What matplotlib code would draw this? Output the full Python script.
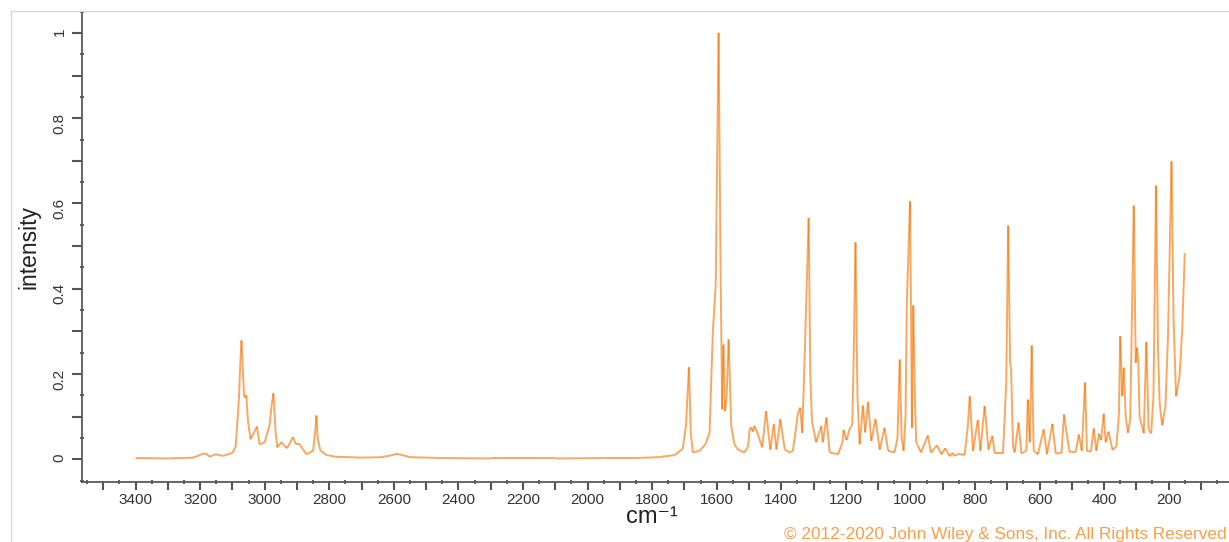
import matplotlib
matplotlib.use('Agg')
import matplotlib.pyplot as plt
from matplotlib.collections import LineCollection
from matplotlib.lines import Line2D
from matplotlib.ticker import MultipleLocator, FuncFormatter
import numpy as np

plt.rcParams['font.family'] = ['Liberation Sans', 'DejaVu Sans']

shift = [3400, 3300, 3220, 3195, 3183, 3170, 3152, 3130, 3100, 3090,
         3080, 3076, 3072, 3064, 3060, 3057, 3052, 3044, 3035, 3024,
         3016, 3000, 2985, 2978, 2973, 2966, 2961, 2949, 2931, 2913,
         2903, 2894, 2871, 2850, 2843, 2840, 2836, 2828, 2809, 2780,
         2700, 2640, 2610, 2590, 2575, 2550, 2450, 2300, 2100, 1950,
         1850, 1780, 1730, 1705, 1695, 1686, 1680, 1674, 1653, 1635,
         1622, 1612, 1603, 1594, 1588, 1583, 1579, 1574, 1569, 1563,
         1555, 1545, 1534, 1514, 1503, 1498, 1493, 1488, 1483, 1473,
         1459, 1447, 1434, 1423, 1415, 1403, 1389, 1374, 1364, 1348,
         1341, 1335, 1328, 1315, 1310, 1305, 1292, 1276, 1271, 1260,
         1250, 1224, 1210, 1207, 1198, 1187, 1180, 1176, 1170, 1164,
         1157, 1147, 1140, 1131, 1121, 1108, 1095, 1080, 1069, 1049,
         1040, 1033, 1027, 1021, 1015, 1011, 1001, 995, 991, 986,
         982, 967, 946, 936, 918, 904, 892, 878, 870, 863,
         850, 832, 822, 816, 806, 791, 783, 770, 758, 746,
         739, 713, 703, 697, 691, 688, 682, 677, 665, 656,
         641, 636, 630, 624, 618, 605, 587, 577, 560, 550,
         532, 524, 517, 507, 488, 478, 469, 459, 453, 441,
         432, 424, 416, 409, 401, 395, 386, 374, 362, 354,
         350, 344, 339, 333, 326, 319, 308, 302, 298, 294,
         290, 277, 269, 262, 254, 247, 239, 233, 228, 220,
         210, 202, 191, 185, 177, 166, 158, 150]
intensity = [0.003, 0.002, 0.004, 0.012, 0.014, 0.006, 0.012, 0.008, 0.015, 0.03,
             0.14, 0.22, 0.279, 0.148, 0.145, 0.15, 0.09, 0.047, 0.06, 0.077,
             0.035, 0.04, 0.08, 0.13, 0.155, 0.06, 0.028, 0.04, 0.026, 0.052,
             0.035, 0.037, 0.012, 0.02, 0.07, 0.103, 0.05, 0.021, 0.010, 0.006,
             0.004, 0.005, 0.009, 0.013, 0.010, 0.005, 0.003, 0.002, 0.002, 0.003,
             0.003, 0.005, 0.010, 0.025, 0.08, 0.216, 0.06, 0.016, 0.02, 0.035,
             0.063, 0.297, 0.41, 1.0, 0.45, 0.117, 0.269, 0.113, 0.15, 0.281,
             0.078, 0.035, 0.023, 0.016, 0.03, 0.07, 0.075, 0.065, 0.078, 0.06,
             0.028, 0.113, 0.023, 0.082, 0.023, 0.094, 0.023, 0.016, 0.02, 0.109,
             0.121, 0.062, 0.226, 0.566, 0.2, 0.09, 0.04, 0.078, 0.04, 0.098,
             0.016, 0.012, 0.04, 0.069, 0.045, 0.074, 0.08, 0.226, 0.509, 0.15,
             0.035, 0.126, 0.063, 0.134, 0.043, 0.094, 0.023, 0.074, 0.02, 0.016,
             0.05, 0.234, 0.05, 0.02, 0.10, 0.367, 0.605, 0.074, 0.361, 0.15,
             0.04, 0.016, 0.056, 0.016, 0.033, 0.012, 0.026, 0.007, 0.015, 0.008,
             0.013, 0.01, 0.078, 0.148, 0.02, 0.092, 0.02, 0.125, 0.023, 0.055,
             0.014, 0.014, 0.18, 0.548, 0.226, 0.211, 0.03, 0.016, 0.086, 0.014,
             0.02, 0.14, 0.04, 0.267, 0.02, 0.012, 0.07, 0.012, 0.083, 0.014,
             0.015, 0.105, 0.066, 0.018, 0.017, 0.058, 0.02, 0.18, 0.02, 0.018,
             0.072, 0.02, 0.06, 0.045, 0.107, 0.04, 0.065, 0.022, 0.03, 0.105,
             0.289, 0.148, 0.215, 0.10, 0.062, 0.094, 0.595, 0.226, 0.262, 0.226,
             0.10, 0.061, 0.275, 0.07, 0.061, 0.148, 0.642, 0.265, 0.133, 0.08,
             0.125, 0.289, 0.699, 0.336, 0.148, 0.195, 0.304, 0.484]

W, H = 1229, 542
fig = plt.figure(figsize=(W / 100, H / 100), dpi=100)
ax = fig.add_axes([82 / W, 1 - 481.7 / H, (1233.2 - 82) / W, (481.7 - 11.6) / H])

# separate translucent segments so that overlapping strokes show darker, as in the original
pts = np.column_stack([shift, intensity])
segs = np.stack([pts[:-1], pts[1:]], axis=1)
lc = LineCollection(segs, colors='#f57300', alpha=0.62, linewidths=1.4)
ax.add_collection(lc)

ax.set_xlim(3566, 0)
ax.set_ylim(-0.0525, 1.05)

for s in ['top', 'right']:
    ax.spines[s].set_visible(False)
for s in ['left', 'bottom']:
    ax.spines[s].set_color('#5a5a5a')
    ax.spines[s].set_linewidth(1.3)

ax.xaxis.set_major_locator(MultipleLocator(100))
ax.xaxis.set_minor_locator(MultipleLocator(50))
ax.yaxis.set_major_locator(MultipleLocator(0.1))
ax.yaxis.set_minor_locator(MultipleLocator(0.05))

def xfmt(v, p):
    n = int(round(v))
    return str(n) if n % 200 == 0 and n >= 200 else ''

def yfmt(v, p):
    n = int(round(v * 10))
    return '%g' % (n / 10) if n % 2 == 0 and n >= 0 else ''

ax.xaxis.set_major_formatter(FuncFormatter(xfmt))
ax.yaxis.set_major_formatter(FuncFormatter(yfmt))

ax.tick_params(axis='x', which='major', direction='out', length=6, width=1.5,
               color='#555555', labelsize=11, labelcolor='#333333', pad=2)
ax.tick_params(axis='y', which='major', direction='out', length=7, width=1.5,
               color='#555555', labelsize=11, labelcolor='#333333', pad=4,
               labelrotation=90)
ax.tick_params(which='minor', direction='inout', length=3, width=1.5, color='#666666')

fig.text(29 / W, 1 - 247 / H, 'intensity', rotation=90, ha='center', va='center',
         fontsize=16.5, color='#222222')
fig.text(652 / W, 1 - 517 / H, 'cm⁻¹', ha='center', va='center',
         fontsize=17, color='#222222')
fig.text(1227 / W, 1 - 535 / H, '© 2012-2020 John Wiley & Sons, Inc. All Rights Reserved',
         ha='right', va='center', fontsize=12.4, color='#f7a049')

# light frame around the picture
fig.add_artist(Line2D([11 / W, 11 / W], [0, 1 - 11 / H], color='#d9d9d9', lw=1))
fig.add_artist(Line2D([11 / W, 1], [1 - 11 / H, 1 - 11 / H], color='#d9d9d9', lw=1))

fig.savefig('out.png', dpi=100)
